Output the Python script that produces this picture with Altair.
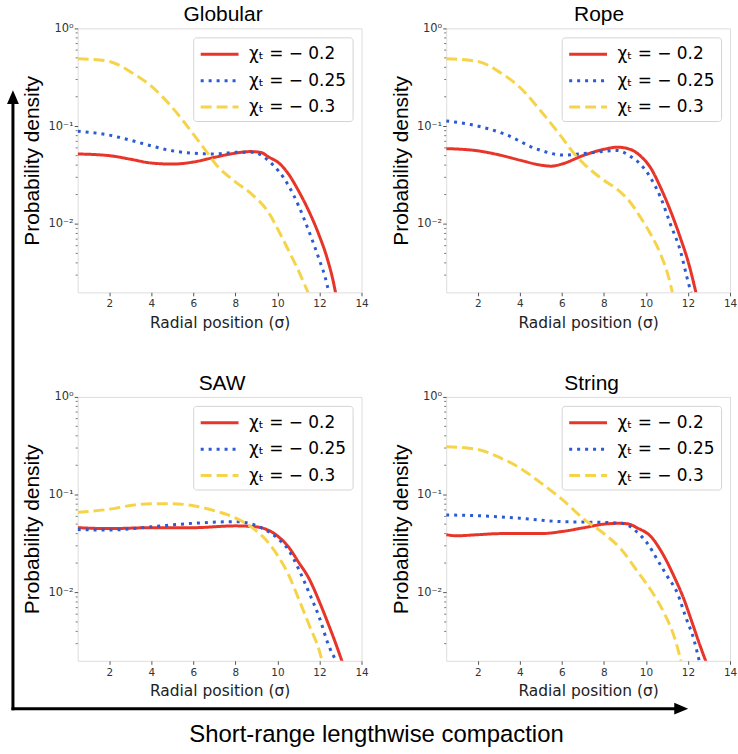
import altair as alt
import pandas as pd
import math

# ---------------- data ----------------
SERIES = ["χₜ = − 0.2", "χₜ = − 0.25", "χₜ = − 0.3"]
COLORS = ["#e8352a", "#2b5bd3", "#f6d44a"]
DASHES = [[1, 0], [3, 5], [11, 5]]

PANELS = ["Globular", "Rope", "SAW", "String"]
TITLE_DX = [3.5, 11, 2.5, 3.5]

X_TICKS = [2, 4, 6, 8, 10, 12, 14]
Y_TICKS = [0.01, 0.1, 1]
Y_TICK_LABELS = ["10⁻²", "10⁻¹", "10⁰"]
Y_MINOR = [0.003, 0.004, 0.005, 0.006, 0.007, 0.008, 0.009,
           0.02, 0.03, 0.04, 0.05, 0.06, 0.07, 0.08, 0.09,
           0.2, 0.3, 0.4, 0.5, 0.6, 0.7, 0.8, 0.9]
X_TITLE = "Radial position (σ)"
Y_TITLE = "Probability density"
BOTTOM_LABEL = "Short-range lengthwise compaction"

# Globular
GLOB_RED_X = [0.5, 1.5, 2, 3, 4, 5, 6, 7, 8, 8.7, 9.2, 9.59, 10.06, 10.54, 11.01, 11.49, 11.96, 12.36, 12.67, 12.78]
GLOB_RED_Y = [0.052, 0.051, 0.050, 0.046, 0.042, 0.041, 0.043, 0.048, 0.053, 0.055, 0.054, 0.0483, 0.0422, 0.0321, 0.0217, 0.0136, 0.0079, 0.0045, 0.0025, 0.0019]
GLOB_BLUE_X = [0.5, 2, 3.1, 4, 5, 6, 7, 8, 8.8, 9.2, 9.59, 10.06, 10.54, 11.01, 11.49, 11.96, 12.36, 12.46]
GLOB_BLUE_Y = [0.089, 0.081, 0.071, 0.063, 0.056, 0.053, 0.052, 0.054, 0.054, 0.051, 0.044, 0.0347, 0.0244, 0.0153, 0.0085, 0.0045, 0.0024, 0.0019]
GLOB_YEL_X = [0.5, 1, 2, 3.1, 4, 5, 6, 6.6, 7.06, 8, 8.8, 9.59, 10.06, 10.54, 11.01, 11.41, 11.5]
GLOB_YEL_Y = [0.49, 0.485, 0.46, 0.35, 0.257, 0.155, 0.083, 0.056, 0.041, 0.027, 0.020, 0.013, 0.0085, 0.0053, 0.0033, 0.0021, 0.0019]

# Rope
ROPE_RED_X = [0.5, 2, 3, 4, 5, 5.5, 6, 7, 8, 8.64, 9.27, 9.75, 10.22, 10.7, 11.17, 11.64, 12.04, 12.4]
ROPE_RED_Y = [0.059, 0.056, 0.051, 0.045, 0.040, 0.039, 0.041, 0.050, 0.058, 0.061, 0.0578, 0.0494, 0.0376, 0.0235, 0.0136, 0.0072, 0.0039, 0.0019]
ROPE_BLUE_X = [0.5, 1.67, 3.28, 4.85, 6.1, 7.2, 8.64, 9.27, 9.75, 10.22, 10.7, 11.17, 11.64, 11.96, 12.17]
ROPE_BLUE_Y = [0.113, 0.104, 0.083, 0.058, 0.0506, 0.053, 0.0565, 0.049, 0.0407, 0.0297, 0.0186, 0.0099, 0.0053, 0.0028, 0.0019]
ROPE_YEL_X = [0.5, 2, 3.1, 4, 5, 6, 6.6, 7.06, 8, 8.64, 9.27, 9.75, 10.22, 10.7, 11.09, 11.28]
ROPE_YEL_Y = [0.49, 0.46, 0.35, 0.25, 0.143, 0.077, 0.052, 0.041, 0.028, 0.0226, 0.0165, 0.0116, 0.0079, 0.0049, 0.0028, 0.0019]

# SAW
SAW_RED_X = [0.5, 2, 4, 6, 8, 8.96, 9.6, 10.06, 10.54, 11, 11.5, 12, 12.43, 12.75, 13.1]
SAW_RED_Y = [0.046, 0.045, 0.046, 0.046, 0.048, 0.047, 0.043, 0.037, 0.029, 0.0205, 0.0139, 0.008, 0.0047, 0.0031, 0.0019]
SAW_BLUE_X = [0.5, 2, 4, 6, 8, 8.8, 9.4, 10.06, 10.54, 11, 11.5, 12, 12.43, 12.85]
SAW_BLUE_Y = [0.044, 0.0435, 0.047, 0.051, 0.053, 0.050, 0.044, 0.035, 0.027, 0.0175, 0.010, 0.0055, 0.0029, 0.0019]
SAW_YEL_X = [0.5, 2, 3.1, 4, 5, 6, 7.06, 8, 8.8, 9.43, 10.06, 10.54, 11, 11.5, 12, 12.15]
SAW_YEL_Y = [0.066, 0.071, 0.078, 0.081, 0.081, 0.077, 0.068, 0.058, 0.046, 0.035, 0.023, 0.015, 0.0087, 0.0047, 0.0025, 0.0019]

# String
STR_RED_X = [0.5, 1, 2, 3.1, 4, 5, 6, 7.06, 8, 8.8, 9.2, 9.59, 10.22, 10.86, 11.33, 11.81, 12.2, 12.59, 12.88]
STR_RED_Y = [0.039, 0.038, 0.039, 0.040, 0.040, 0.040, 0.042, 0.046, 0.050, 0.051, 0.050, 0.0457, 0.0376, 0.0235, 0.0147, 0.0085, 0.0049, 0.0028, 0.0019]
STR_BLUE_X = [0.5, 2, 4, 6, 8, 8.8, 9.2, 9.59, 10.06, 10.54, 11.01, 11.49, 11.88, 12.28, 12.56]
STR_BLUE_Y = [0.062, 0.061, 0.0575, 0.053, 0.052, 0.051, 0.048, 0.0412, 0.032, 0.0217, 0.0147, 0.0099, 0.0057, 0.0033, 0.0019]
STR_YEL_X = [0.5, 2, 3.1, 4, 5, 6, 7.06, 8, 8.8, 9.59, 10.22, 10.86, 11.33, 11.57, 11.68]
STR_YEL_Y = [0.31, 0.29, 0.237, 0.188, 0.132, 0.090, 0.056, 0.040, 0.028, 0.0165, 0.0107, 0.0062, 0.0036, 0.0024, 0.0019]

PANEL_DATA = {
    "Globular": [(GLOB_RED_X, GLOB_RED_Y), (GLOB_BLUE_X, GLOB_BLUE_Y), (GLOB_YEL_X, GLOB_YEL_Y)],
    "Rope": [(ROPE_RED_X, ROPE_RED_Y), (ROPE_BLUE_X, ROPE_BLUE_Y), (ROPE_YEL_X, ROPE_YEL_Y)],
    "SAW": [(SAW_RED_X, SAW_RED_Y), (SAW_BLUE_X, SAW_BLUE_Y), (SAW_YEL_X, SAW_YEL_Y)],
    "String": [(STR_RED_X, STR_RED_Y), (STR_BLUE_X, STR_BLUE_Y), (STR_YEL_X, STR_YEL_Y)],
}

W, H = 285, 265
TICK_COLOR = "#555555"

label_parts = [
    f"abs(log(datum.value)/LN10 - ({math.log10(v)})) < 0.01 ? '{lab}'"
    for v, lab in zip(Y_TICKS, Y_TICK_LABELS)
]
Y_LABEL_EXPR = " : ".join(label_parts) + " : ''"

XSCALE = alt.Scale(domain=[0.5, 14], nice=False, zero=False)
YSCALE = alt.Scale(type="log", domain=[0.002, 1], nice=False)
X_AXIS = alt.Axis(
    values=X_TICKS, title=X_TITLE, domain=False, grid=False,
    tickSize=3.5, tickColor=TICK_COLOR, labelFont="DejaVu Sans", labelFontSize=10.5,
    labelColor="#333333", labelPadding=3, labelFlush=False,
    titleFont="DejaVu Sans", titleFontSize=15.5, titleFontWeight="normal",
    titleColor="#222222", titleY=35, titleBaseline="alphabetic")
Y_AXIS = alt.Axis(
    values=Y_TICKS, labelExpr=Y_LABEL_EXPR, title=Y_TITLE, domain=False, grid=False,
    tickSize=3.5, tickColor=TICK_COLOR, labelFont="DejaVu Sans", labelFontSize=11.5,
    labelColor="#333333", labelPadding=1, labelFlush=False,
    titleFont="Liberation Sans", titleFontSize=21, titleFontWeight="normal",
    titleColor="black", titleX=-45, titleY=H / 2, titleAngle=270,
    titleBaseline="middle", titleAlign="center")


def one(name, dx, anchor=False, arrows=False):
    rows = []
    for s, (xs, ys) in zip(SERIES, PANEL_DATA[name]):
        for a, b in zip(xs, ys):
            rows.append({"series": s, "r": a, "p": b})
    df = pd.DataFrame(rows)

    legend = alt.Legend(
        orient="top-right", offset=9, padding=6, rowPadding=7.5,
        symbolType="M-1,0L3,0", symbolSize=361, symbolStrokeWidth=3,
        labelFont="DejaVu Sans", labelFontSize=17, labelColor="black",
        labelOffset=28, fillColor="rgba(255,255,255,0.85)", strokeColor="#d4d4d4",
        cornerRadius=3, title=None,
    )

    lines = alt.Chart(df).mark_line(clip=True, strokeWidth=3, interpolate="monotone").encode(
        x=alt.X("r:Q", scale=XSCALE, axis=X_AXIS),
        y=alt.Y("p:Q", scale=YSCALE, axis=Y_AXIS),
        color=alt.Color("series:N", scale=alt.Scale(domain=SERIES, range=COLORS), legend=legend),
        strokeDash=alt.StrokeDash("series:N", scale=alt.Scale(domain=SERIES, range=DASHES), legend=legend),
    )

    minor = alt.Chart(pd.DataFrame({"p": Y_MINOR})).mark_rule(color=TICK_COLOR, strokeWidth=0.8).encode(
        y=alt.Y("p:Q", scale=YSCALE, axis=Y_AXIS),
        x=alt.value(0), x2=alt.value(-2),
    )

    one_row = pd.DataFrame({"k": [0]})
    title = alt.Chart(one_row).mark_text(
        font="Liberation Sans", fontSize=21, color="black", align="center", baseline="alphabetic"
    ).encode(x=alt.value(W / 2 + dx), y=alt.value(-7), text=alt.value(name))

    layers = [lines, minor, title]
    if anchor:
        layers.append(alt.Chart(one_row).mark_rule(opacity=0, strokeWidth=1).encode(
            x=alt.value(-77.5), x2=alt.value(-76.5), y=alt.value(-26.5)))
    if arrows:
        layers.append(alt.Chart(one_row).mark_rule(color="black", strokeWidth=3, strokeCap="square").encode(
            x=alt.value(-65), y=alt.value(313), y2=alt.value(-295)))
        layers.append(alt.Chart(one_row).mark_rule(color="black", strokeWidth=3, strokeCap="square").encode(
            x=alt.value(-65), x2=alt.value(600), y=alt.value(313)))
        layers.append(alt.Chart(one_row).mark_point(
            shape="M0,-1L0.85,1L-0.85,1Z", filled=True, color="black", opacity=1, size=196, strokeWidth=0
        ).encode(x=alt.value(-65), y=alt.value(-301)))
        layers.append(alt.Chart(one_row).mark_point(
            shape="M1,0L-1,-0.85L-1,0.85Z", filled=True, color="black", opacity=1, size=196, strokeWidth=0
        ).encode(x=alt.value(606), y=alt.value(313)))
        layers.append(alt.Chart(one_row).mark_text(
            font="Liberation Sans", fontSize=24, color="black", align="center", baseline="alphabetic"
        ).encode(x=alt.value(300), y=alt.value(346.5), text=alt.value(BOTTOM_LABEL)))

    return alt.layer(*layers).properties(width=W, height=H)


charts = [
    one(PANELS[0], TITLE_DX[0], anchor=True),
    one(PANELS[1], TITLE_DX[1]),
    one(PANELS[2], TITLE_DX[2], arrows=True),
    one(PANELS[3], TITLE_DX[3]),
]

chart = alt.concat(*charts, columns=2, spacing={"row": 105, "column": 85}, bounds="flush").resolve_scale(
    color="independent", strokeDash="independent"
).properties(padding=0).configure_view(stroke="#6e6e6e", strokeWidth=1).configure(background="white")

chart.save("out.html", embed_options={"renderer": "svg", "actions": False})
